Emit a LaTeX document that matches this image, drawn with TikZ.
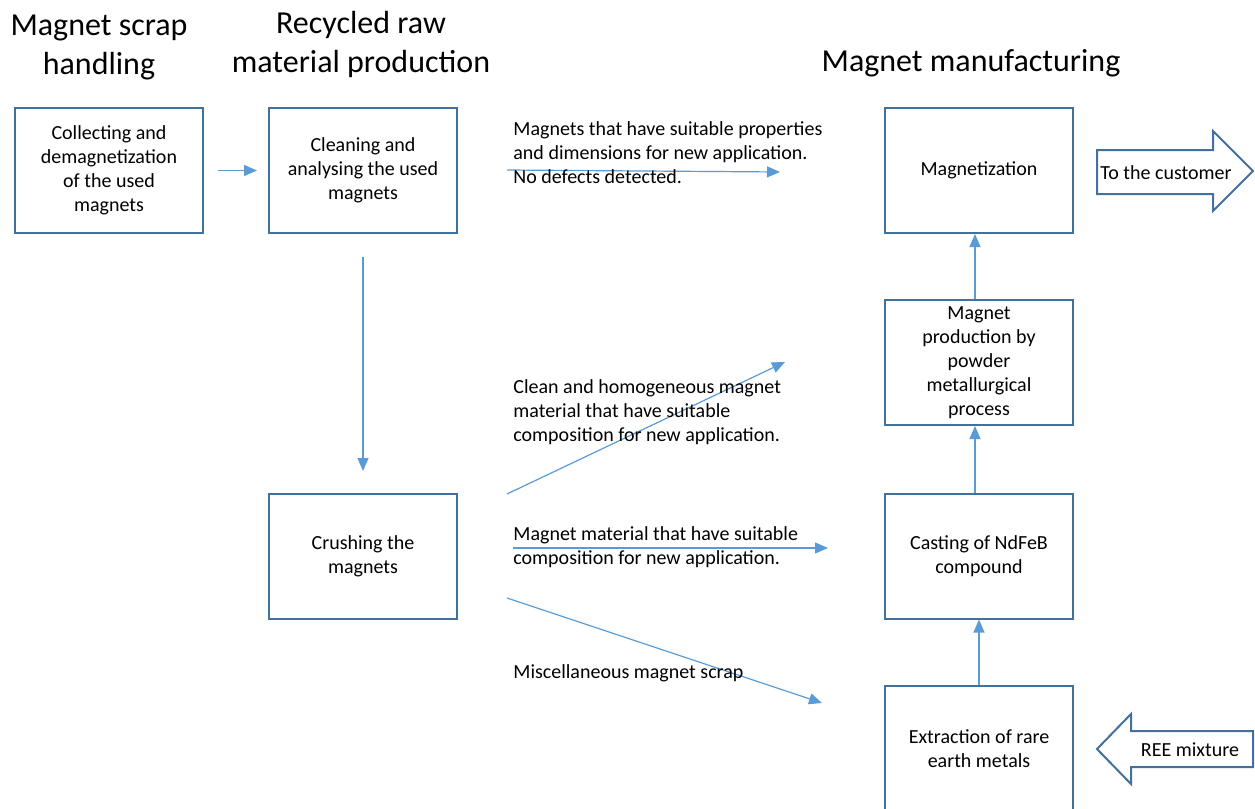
\documentclass[tikz,border=0pt]{standalone}
\usepackage{fontspec}
\setmainfont{Carlito}
\usetikzlibrary{arrows.meta}
\definecolor{boxblue}{HTML}{41719C}
\definecolor{arrblue}{HTML}{5B9BD5}
\begin{document}
\begin{tikzpicture}[x=0.5pt,y=-0.5pt,
		box/.style={draw=boxblue,line width=1pt,minimum width=94pt,minimum height=62.5pt,align=center,inner sep=2pt},
		flow/.style={draw=arrblue,line width=0.6pt,-{Triangle[length=6.5pt,width=5.5pt]}},
		heading/.style={font=\fontsize{16}{19.5}\selectfont,align=center},
		note/.style={anchor=west,align=left,inner sep=0pt},
		blockarrow/.style={draw=boxblue,line width=1pt,fill=white}]
		\useasboundingbox (0,0) rectangle (1255,809);
		% headings
		\node[heading] (hscrap) at (99,47) {Magnet scrap\\handling};
		\node[heading] (hraw) at (361,44) {Recycled raw\\material production};
		\node[heading] (hmanu) at (971,63) {Magnet manufacturing};
		% boxes
		\node[box] (collect) at (109,170.5) {Collecting and\\demagnetization\\of the used\\magnets};
		\node[box] (clean) at (363,170.5) {Cleaning and\\analysing the used\\magnets};
		\node[box] (crush) at (363,556.5) {Crushing the\\magnets};
		\node[box] (magnetize) at (979,170.5) {Magnetization};
		\node[box] (powder) at (979,362.5) {Magnet\\production by\\powder\\metallurgical\\process};
		\node[box] (cast) at (979,556) {Casting of NdFeB\\compound};
		\node[box,minimum height=63pt] (extract) at (979,749) {Extraction of rare\\earth metals};
		% free ends
		\coordinate (s1) at (507,170);
		\coordinate (e1) at (780,172);
		\coordinate (s2) at (507,494);
		\coordinate (e2) at (785,362);
		\coordinate (s3) at (513,548);
		\coordinate (e3) at (828,548);
		\coordinate (s4) at (507,598);
		\coordinate (e4) at (822,703);
		% connectors
		\draw[flow,shorten <=7pt,shorten >=5.5pt] (collect.east) -- (clean.west);
		\draw[flow,shorten <=11.5pt,shorten >=11pt] (clean.south) -- (crush.north);
		\draw[flow] (s1) -- (e1);
		\draw[flow] (s2) -- (e2);
		\draw[flow] (s3) -- (e3);
		\draw[flow] (s4) -- (e4);
		\draw[flow] (extract.north) -- (cast.south);
		\draw[flow] ([xshift=-2pt]cast.north) -- ([xshift=-2pt]powder.south);
		\draw[flow] ([xshift=-2pt]powder.north) -- ([xshift=-2pt]magnetize.south);
		% labels
		\node[note] (lreuse) at (513,153) {Magnets that have suitable properties\\and dimensions for new application.\\No defects detected.};
		\node[note] (lclean) at (513,412) {Clean and homogeneous magnet\\material that have suitable\\composition for new application.};
		\node[note] (lmat) at (513,547) {Magnet material that have suitable\\composition for new application.};
		\node[note] (lmisc) at (513,673) {Miscellaneous magnet scrap};
		% block arrows
		\draw[blockarrow] (1097,150) -- (1213,150) -- (1213,131) -- (1253,171) -- (1213,211) -- (1213,194) -- (1097,194) -- cycle;
		\node (customer) at (1166,173) {To the customer};
		\draw[blockarrow] (1253,731) -- (1131,731) -- (1131,714) -- (1097,749) -- (1131,784) -- (1131,767) -- (1253,767) -- cycle;
		\node (ree) at (1190,750) {REE mixture};
\end{tikzpicture}
\end{document}
